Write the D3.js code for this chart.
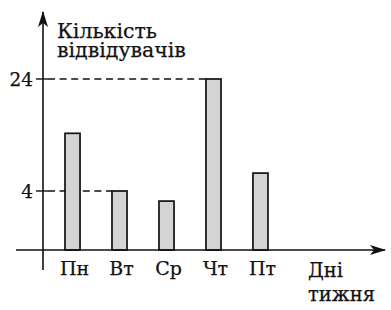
<!DOCTYPE html>
<html>
<head>
<meta charset="utf-8">
<script src="https://cdn.jsdelivr.net/npm/d3@7"></script>
<style>
  body { margin: 0; background: #fff; }
  text { font-family: "DejaVu Serif", serif; fill: #111; stroke: #111; stroke-width: 0.25px; }
</style>
</head>
<body>
<svg></svg>
<script>
// Visitors per weekday bar chart
const SVG = d3.select('svg');
const SVG_WIDTH = 391;
const SVG_HEIGHT = 310;
const AXIS_X = 43;
const AXIS_Y = 250;

// Data
const days = ['Пн', 'Вт', 'Ср', 'Чт', 'Пт'];
const visitors = [14.3, 4, 2.2, 24, 7.2];
const yTicks = [4, 24];
const yTitle = ['Кількість', 'відвідувачів'];
const xTitle = ['Дні', 'тижня'];

SVG.attr('width', SVG_WIDTH).attr('height', SVG_HEIGHT);

// Scales
var xScale = d3.scaleBand().domain(days).range([65, 268]).paddingInner(0.68).paddingOuter(0).align(0);
var yScale = d3.scaleLinear().domain([4, 24]).range([191, 79]);

// Arrow heads
var defs = SVG.append('defs');
defs.append('marker')
    .attr('id', 'arrow')
    .attr('viewBox', '0 0 16 10')
    .attr('refX', 15).attr('refY', 5)
    .attr('markerWidth', 16).attr('markerHeight', 10)
    .attr('markerUnits', 'userSpaceOnUse')
    .attr('orient', 'auto')
    .append('path')
    .attr('d', 'M0,0 L16,5 L0,10 L4,5 Z')
    .attr('fill', '#111');

// Dashed guide lines
var data = days.map((d, i) => ({day: d, value: visitors[i]}));
SVG.selectAll('line.guide')
    .data(yTicks)
    .enter()
    .append('line')
    .attr('class', 'guide')
    .attr('x1', AXIS_X + 5)
    .attr('x2', t => xScale(data.find(d => d.value === t).day))
    .attr('y1', t => yScale(t))
    .attr('y2', t => yScale(t))
    .attr('stroke', '#111')
    .attr('stroke-width', 1.4)
    .attr('stroke-dasharray', '7,4.6');

// Bars
SVG.selectAll('rect')
    .data(data)
    .enter()
    .append('rect')
    .attr('x', d => xScale(d.day))
    .attr('y', d => yScale(d.value))
    .attr('width', xScale.bandwidth())
    .attr('height', d => AXIS_Y - yScale(d.value))
    .attr('fill', '#d4d4d4')
    .attr('stroke', '#111')
    .attr('stroke-width', 1.7);

// Axes
SVG.append('line')
    .attr('x1', 16).attr('x2', 385)
    .attr('y1', AXIS_Y).attr('y2', AXIS_Y)
    .attr('stroke', '#111').attr('stroke-width', 1.6)
    .attr('marker-end', 'url(#arrow)');
SVG.append('line')
    .attr('x1', AXIS_X).attr('x2', AXIS_X)
    .attr('y1', 270).attr('y2', 12)
    .attr('stroke', '#111').attr('stroke-width', 1.6)
    .attr('marker-end', 'url(#arrow)');

// Y ticks and labels
SVG.selectAll('line.tick')
    .data(yTicks)
    .enter()
    .append('line')
    .attr('class', 'tick')
    .attr('x1', AXIS_X - 7).attr('x2', AXIS_X + 5)
    .attr('y1', t => yScale(t)).attr('y2', t => yScale(t))
    .attr('stroke', '#111').attr('stroke-width', 1.4);
SVG.selectAll('text.ytick')
    .data(yTicks)
    .enter()
    .append('text')
    .attr('class', 'ytick')
    .attr('x', AXIS_X - 10)
    .attr('y', t => yScale(t))
    .attr('dy', '0.36em')
    .style('text-anchor', 'end')
    .style('font-size', '18.5px')
    .text(t => t);

// X labels
SVG.selectAll('text.xtick')
    .data(days)
    .enter()
    .append('text')
    .attr('class', 'xtick')
    .attr('x', d => xScale(d) + xScale.bandwidth() / 2 + 2)
    .attr('y', 275)
    .style('font-size', '19px')
    .style('text-anchor', 'middle')
    .text(d => d);

// Titles
SVG.append('text')
    .attr('x', 57).attr('y', 38)
    .style('font-size', '20.5px')
    .selectAll('tspan')
    .data(yTitle)
    .enter()
    .append('tspan')
    .attr('x', 57)
    .attr('dy', (d, i) => i === 0 ? 0 : 19)
    .text(d => d);

SVG.append('text')
    .attr('x', 308).attr('y', 277)
    .style('font-size', '19.5px')
    .selectAll('tspan')
    .data(xTitle)
    .enter()
    .append('tspan')
    .attr('x', 308)
    .attr('dy', (d, i) => i === 0 ? 0 : 24)
    .text(d => d);
</script>
</body>
</html>
